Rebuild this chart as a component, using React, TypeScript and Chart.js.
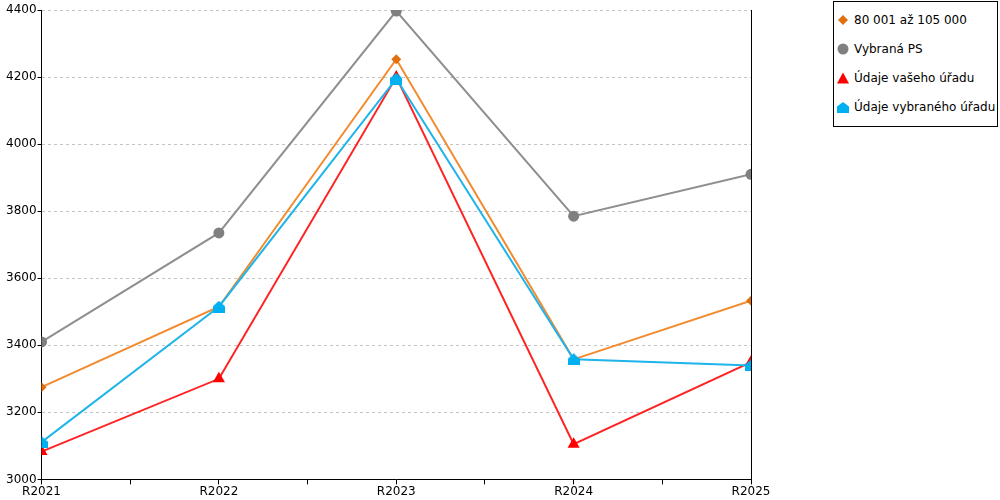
import { useEffect, useRef } from 'react';
import { Chart, registerables } from 'chart.js';

Chart.register(...registerables);

// Data
const years = ['R2021', 'R2022', 'R2023', 'R2024', 'R2025'];
const bandValues = [3275, 3515, 4253, 3358, 3533];      // 80 001 až 105 000
const selectedPsValues = [3410, 3735, 4397, 3785, 3910]; // Vybraná PS
const yourOfficeValues = [3083, 3300, 4200, 3105, 3350]; // Údaje vašeho úřadu
const chosenOfficeValues = [3111, 3515, 4195, 3358, 3340]; // Údaje vybraného úřadu
const yTicks = { min: 3000, max: 4400, step: 200 };

const FONT = '"DejaVu Sans", Verdana, sans-serif';

// small "house" marker (triangle on a square) used for the blue series
function makeHouse(size: number, color: string) {
  const c = document.createElement('canvas');
  c.width = size;
  c.height = size;
  const ctx = c.getContext('2d');
  if (ctx) {
    ctx.fillStyle = color;
    ctx.beginPath();
    ctx.moveTo(size / 2, 0);
    ctx.lineTo(size, size * 0.45);
    ctx.lineTo(size, size);
    ctx.lineTo(0, size);
    ctx.lineTo(0, size * 0.45);
    ctx.closePath();
    ctx.fill();
  }
  return c;
}

const toPoints = (vals: number[]) => vals.map((y, i) => ({ x: i, y }));

const legendItems = [
  { label: '80 001 až 105 000', shape: 'diamond', color: '#E0700F' },
  { label: 'Vybraná PS', shape: 'circle', color: '#808080' },
  { label: 'Údaje vašeho úřadu', shape: 'triangle', color: '#FF0000' },
  { label: 'Údaje vybraného úřadu', shape: 'house', color: '#00B0F0' },
];

function Marker({ shape, color }: { shape: string; color: string }) {
  let el;
  if (shape === 'diamond') el = <polygon points="6,1 11,6 6,11 1,6" fill={color} />;
  else if (shape === 'circle') el = <circle cx="6" cy="6" r="5.5" fill={color} />;
  else if (shape === 'triangle') el = <polygon points="6,0.5 12,11.5 0,11.5" fill={color} />;
  else el = <polygon points="6,1 12,5.5 12,12 0,12 0,5.5" fill={color} />;
  return (
    <svg width="12" height="12" style={{ position: 'absolute', left: 3, top: 1 }}>
      {el}
    </svg>
  );
}

export default function App() {
  const canvasRef = useRef<HTMLCanvasElement>(null);

  useEffect(() => {
    if (!canvasRef.current) return;
    const house = makeHouse(12, '#00B0F0');

    const chart = new Chart(canvasRef.current, {
      type: 'line',
      data: {
        datasets: [
          {
            label: '80 001 až 105 000',
            data: toPoints(bandValues),
            borderColor: '#F28A2E',
            backgroundColor: '#E0700F',
            borderWidth: 2,
            pointStyle: 'rectRot',
            pointRadius: 5,
            pointBorderWidth: 0,
            order: 3,
          },
          {
            label: 'Vybraná PS',
            data: toPoints(selectedPsValues),
            borderColor: '#8F8F8F',
            backgroundColor: '#808080',
            borderWidth: 2,
            pointStyle: 'circle',
            pointRadius: 5.5,
            pointBorderWidth: 0,
            order: 4,
          },
          {
            label: 'Údaje vašeho úřadu',
            data: toPoints(yourOfficeValues),
            borderColor: '#FF2424',
            backgroundColor: '#FF0000',
            borderWidth: 2,
            pointStyle: 'triangle',
            pointRadius: 7,
            pointBorderWidth: 0,
            order: 2,
          },
          {
            label: 'Údaje vybraného úřadu',
            data: toPoints(chosenOfficeValues),
            borderColor: '#1FB4EA',
            backgroundColor: '#00B0F0',
            borderWidth: 2,
            pointStyle: house,
            pointRadius: 6,
            pointBorderWidth: 0,
            order: 1,
          },
        ],
      },
      options: {
        responsive: true,
        maintainAspectRatio: false,
        animation: false,
        layout: { padding: { left: 5, top: 10, right: 249, bottom: 0 } },
        plugins: {
          legend: { display: false },
          tooltip: { enabled: false },
        },
        scales: {
          x: {
            type: 'linear',
            min: 0,
            max: years.length - 1,
            grid: {
              drawOnChartArea: false,
              color: '#000',
              tickLength: 5,
            },
            border: { color: '#000', width: 1 },
            ticks: {
              stepSize: 0.5,
              autoSkip: false,
              maxRotation: 0,
              padding: 0,
              color: '#000',
              font: { family: FONT, size: 12, lineHeight: 1.3 },
              callback: (v) => {
                const n = Number(v);
                return Number.isInteger(n) ? years[n] : '';
              },
            },
          },
          y: {
            min: yTicks.min,
            max: yTicks.max,
            grid: {
              color: '#C4C4C4',
              tickColor: '#000',
              tickBorderDash: [],
              tickLength: 4,
            },
            border: { color: '#000', width: 1, dash: [3, 3] },
            ticks: {
              stepSize: yTicks.step,
              padding: 1,
              color: '#000',
              font: { family: FONT, size: 12 },
              callback: (v) => String(v),
            },
          },
          y2: {
            position: 'right',
            min: 0,
            max: 1,
            grid: { drawOnChartArea: false, drawTicks: false },
            border: { color: '#000', width: 1 },
            ticks: { display: false },
          },
        },
      },
    });

    return () => {
      chart.destroy();
    };
  }, []);

  return (
    <div style={{ position: 'absolute', left: 0, top: 0, width: 1000, height: 500, background: '#fff' }}>
      <canvas ref={canvasRef}></canvas>
      <div
        style={{
          position: 'absolute',
          left: 833,
          top: 1,
          width: 165,
          height: 126,
          boxSizing: 'border-box',
          border: '1px solid #000',
          background: '#fff',
          fontFamily: FONT,
          fontSize: 12,
        }}
      >
        {legendItems.map((item, i) => (
          <div
            key={item.label}
            style={{ position: 'absolute', left: 0, top: 11 + i * 29, height: 14, lineHeight: '14px', whiteSpace: 'nowrap' }}
          >
            <Marker shape={item.shape} color={item.color} />
            <span style={{ position: 'absolute', left: 20, top: 0, color: '#000' }}>{item.label}</span>
          </div>
        ))}
      </div>
    </div>
  );
}
